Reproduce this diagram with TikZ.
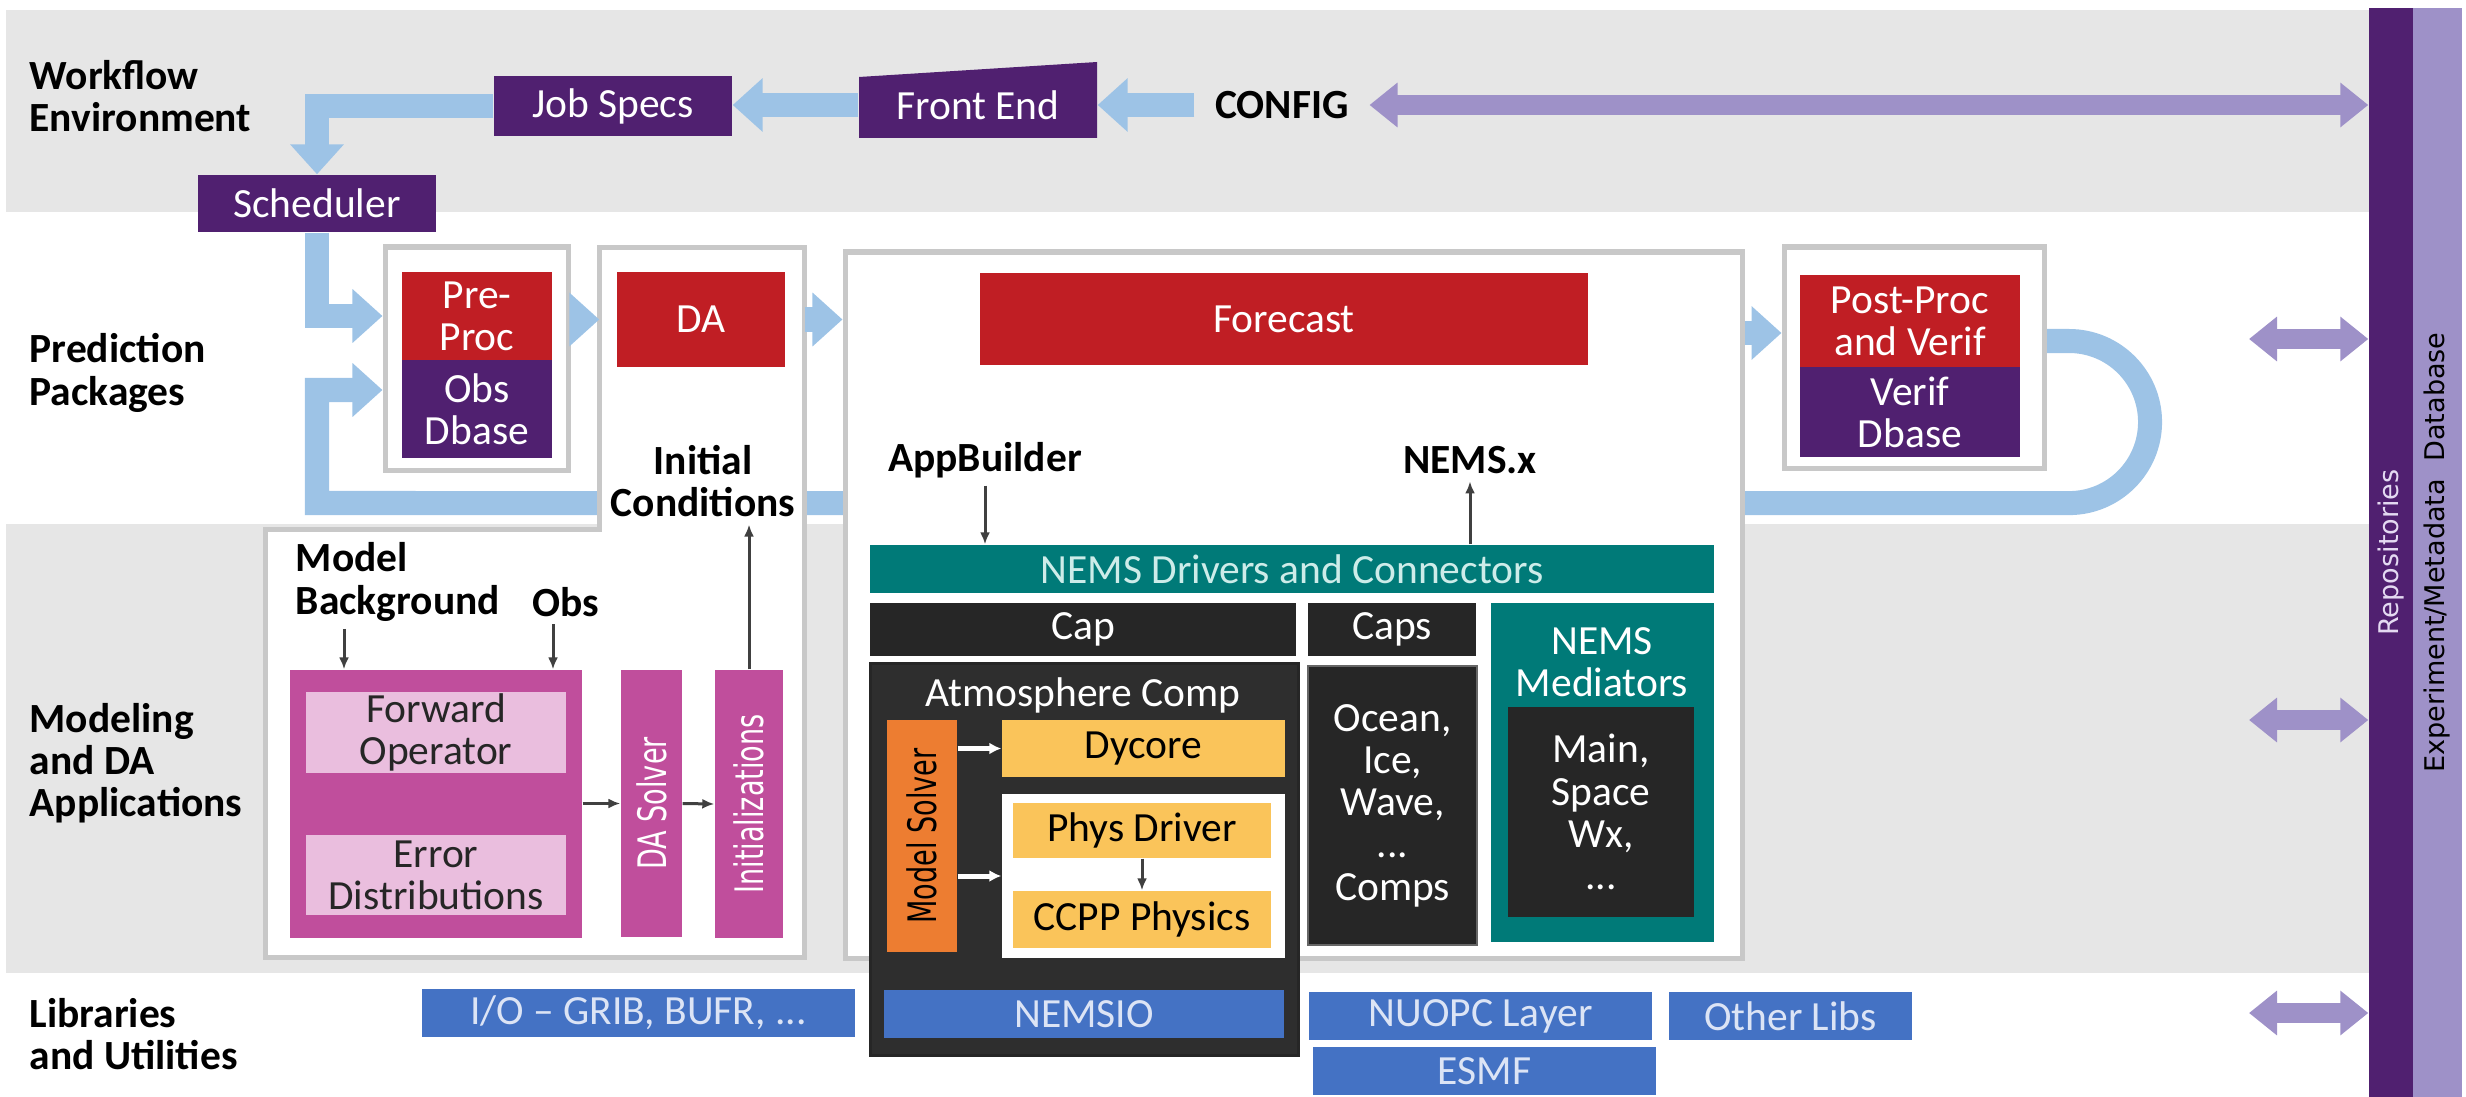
\documentclass[tikz,border=0pt]{standalone}
\usepackage{fontspec}
\setmainfont{Carlito}
\newfontfamily\rotfont{DejaVu Sans}
\usetikzlibrary{arrows.meta,backgrounds}

\definecolor{bandgray}{RGB}{230,230,230}
\definecolor{wfpurple}{RGB}{80,32,112}
\definecolor{lilac}{RGB}{158,145,200}
\definecolor{skyblue}{RGB}{157,195,230}
\definecolor{fcred}{RGB}{192,30,36}
\definecolor{nemsteal}{RGB}{0,122,120}
\definecolor{capblack}{RGB}{38,38,38}
\definecolor{atmgray}{RGB}{46,46,46}
\definecolor{solverorange}{RGB}{237,125,49}
\definecolor{coreyellow}{RGB}{250,196,90}
\definecolor{damagenta}{RGB}{192,78,156}
\definecolor{palepink}{RGB}{234,190,222}
\definecolor{libblue}{RGB}{68,114,196}
\definecolor{framegray}{RGB}{200,200,200}
\definecolor{libtext}{RGB}{220,228,245}
\definecolor{tealtext}{RGB}{205,236,233}
\definecolor{repotext}{RGB}{228,218,242}

\begin{document}
\begin{tikzpicture}[x=0.01cm, y=-0.01cm,
    every node/.style={font=\fontsize{11.8}{12}\selectfont},
    wh/.style 2 args={minimum width=#1*0.01cm, minimum height=#2*0.01cm},
    box/.style={inner sep=0pt, align=center},
    purplebox/.style={box, fill=wfpurple, text=white},
    redbox/.style={box, fill=fcred, text=white},
    tealbox/.style={box, fill=nemsteal, text=tealtext},
    blackbox/.style={box, fill=capblack, text=white},
    atmbox/.style={box, fill=atmgray, draw=black!85, line width=0.03cm},
    yellowbox/.style={box, fill=coreyellow, text=black},
    orangebox/.style={box, fill=solverorange},
    magbox/.style={box, fill=damagenta},
    pinkbox/.style={box, fill=palepink, text=black!85},
    libbox/.style={box, fill=libblue, text=libtext},
    frame/.style={draw=framegray, line width=0.05cm, fill=white, inner sep=0pt},
    lbl/.style={anchor=west, align=left, inner sep=0pt, font=\fontsize{11.8}{12}\selectfont\bfseries},
    bold/.style={align=center, inner sep=2pt, font=\fontsize{11.8}{12}\selectfont\bfseries},
    vtext/.style={rotate=90, inner sep=0pt, font=\rotfont\fontsize{7.7}{8}\selectfont},
    tallvtext/.style={vtext, yscale=1.45},
    bluearrow/.style={draw=skyblue, line width=0.24cm, -{Triangle[length=0.3cm,width=0.52cm]}},
    lilacarrows/.style={draw=lilac, line width=0.2cm, {Triangle[length=0.28cm,width=0.43cm]}-{Triangle[length=0.28cm,width=0.43cm]}},
    thinarr/.style={draw=black!75, line width=0.03cm, -{Latex[length=0.12cm,width=0.1cm]}},
    whitearr/.style={draw=white, line width=0.05cm, -{Latex[length=0.12cm,width=0.12cm]}}]

\useasboundingbox (0,0) rectangle (2466,1097);

% bands
\begin{scope}[on background layer]
\fill[bandgray] (6,10) rectangle (2369,212);
\fill[bandgray] (6,524) rectangle (2369,973);
\end{scope}

% repositories and database bars
\node[box, fill=wfpurple, wh={44}{1089}] (repos) at (2391,552.5) {};
\node[box, fill=lilac, wh={49}{1089}] (expdb) at (2437.5,552.5) {};
\node[vtext, text=repotext] (repostxt) at (repos) {Repositories};
\node[vtext, text=black] (expdbtxt) at (expdb) {Experiment/Metadata\ \ Database};

% row labels
\node[lbl] (wflbl) at (29,96) {Workflow\\Environment};
\node[lbl] (pplbl) at (29,373) {Prediction\\Packages};
\node[lbl] (mdlbl) at (29,763) {Modeling\\and DA\\Applications};
\node[lbl] (liblbl) at (29,1034) {Libraries\\and Utilities};

% workflow environment
\fill[wfpurple] (859,138) -- (1097,138) -- (1097,62) -- (859,77) -- cycle;
\node[box, text=white, wh={238}{66}] (frontend) at (978,105) {Front End};
\node[purplebox, wh={238}{60}] (jobspecs) at (613,106) {Job Specs};
\node[purplebox, wh={238}{57}] (sched) at (317,203.5) {Scheduler};
\node[bold, inner xsep=0.2cm] (config) at (1282,105) {CONFIG};

\draw[bluearrow] (config.west) -- (frontend.east);
\draw[bluearrow] (frontend.west) -- (jobspecs.east |- frontend);
\draw[bluearrow] (jobspecs.west) -| (sched.north);
\draw[lilacarrows] (config.east) -- (config.east -| repos.west);

% prediction packages
\node[frame, wh={183}{223}] (preC) at (476.5,358.5) {};
\node[box, wh={204}{709}] (dacol) at (702,602.5) {};
\node[box, wh={538}{427}] (modelC) at (535,743.5) {};
\filldraw[draw=framegray, line width=0.05cm, fill=white] (modelC.north west) -- (dacol.west |- modelC.north) -- (dacol.north west) -- (dacol.north east) -- (modelC.south east) -- (modelC.south west) -- cycle;
\node[frame, wh={897}{706}] (fcC) at (1293.5,605) {};
\node[frame, wh={260}{221}] (ppC) at (1914,357.5) {};

\begin{scope}[on background layer]
\draw[bluearrow] (ppC.east |- 0,341) -- (2069,341) arc[start angle=90, end angle=-90, radius=0.81cm] -- (sched.south |- 0,503) |- (preC.west |- 0,390);
\end{scope}

\node[redbox, wh={150}{88}] (preproc) at (477,316) {Pre-\\Proc};
\node[purplebox, wh={150}{98}] (obsdb) at (477,409) {Obs\\Dbase};
\node[redbox, wh={168}{95}] (dabox) at (701,319.5) {DA};
\node[bold] (initcond) at (703,481) {Initial\\Conditions};
\node[redbox, wh={608}{92}] (fcst) at (1284,319) {Forecast};
\node[redbox, wh={220}{92}] (postproc) at (1910,321) {Post-Proc\\and Verif};
\node[purplebox, wh={220}{90}] (verifdb) at (1910,412) {Verif\\Dbase};

\draw[bluearrow] (sched.south) |- (preC.west |- preproc);
\draw[bluearrow] (preC.east |- dabox) -- (dacol.west |- dabox);
\draw[bluearrow] (dacol.east |- dabox) -- (fcC.west |- dabox);
\draw[bluearrow] (fcC.east |- 0,333) -- (ppC.west |- 0,333);

% forecast / NEMS
\node[bold] (appb) at (985,460) {AppBuilder};
\node[bold] (nemsx) at (1470,460) {NEMS.x};
\node[tealbox, wh={844}{48}] (nemsdrv) at (1292,569) {NEMS Drivers and Connectors};
\draw[thinarr] (appb.south) -- (appb.south |- nemsdrv.north);
\draw[thinarr] (nemsdrv.north -| nemsx) -- (nemsx.south);

\node[blackbox, wh={426}{53}] (cap) at (1083,629.5) {Cap};
\node[blackbox, wh={168}{53}] (caps) at (1392,629.5) {Caps};
\node[tealbox, wh={223}{339}] (medi) at (1602.5,772.5) {};
\node[box, text=white] (meditxt) at (1602,662) {NEMS\\Mediators};
\node[blackbox, wh={186}{210}] (medmain) at (1601,812) {Main,\\Space\\Wx,\\...};
\node[blackbox, draw=black!60, line width=0.02cm, wh={169}{279}] (capscol) at (1392.5,805.5) {Ocean,\\Ice,\\Wave,\\...\\Comps};

\node[atmbox, wh={428}{392}] (atm) at (1084,859) {};
\node[box, text=white] (atmtxt) at (1083,695) {Atmosphere Comp};
\node[orangebox, wh={70}{232}] (msolver) at (922,836) {};
\node[tallvtext, text=black] (msolvertxt) at (msolver) {Model Solver};
\node[yellowbox, wh={283}{57}] (dycore) at (1143.5,748.5) {Dycore};
\node[box, fill=white, wh={283}{164}] (physbox) at (1143.5,876) {};
\node[yellowbox, wh={258}{55}] (physdrv) at (1142,830.5) {Phys Driver};
\node[yellowbox, wh={258}{57}] (ccpp) at (1142,919.5) {CCPP Physics};
\draw[thinarr] (physdrv) -- (ccpp);
\draw[whitearr] (msolver.east |- dycore) -- (dycore.west);
\draw[whitearr] (msolver.east |- physbox) -- (physbox.west);
\node[libbox, wh={400}{48}] (nemsio) at (1084,1014) {NEMSIO};

% modeling and DA
\node[bold, anchor=west, align=left] (modelbg) at (288,582) {Model\\Background};
\node[bold] (obs) at (566,602) {Obs};
\node[magbox, wh={292}{268}] (damag) at (436,804) {};
\node[pinkbox, wh={260}{81}] (fwdop) at (436,732.5) {Forward\\Operator};
\node[pinkbox, wh={260}{80}] (errdist) at (436,875) {Error\\Distributions};
\node[magbox, wh={61}{267}] (dasolver) at (651.5,803.5) {};
\node[tallvtext, text=white] (dasolvertxt) at (dasolver) {DA Solver};
\node[magbox, wh={68}{268}] (initz) at (749,804) {};
\node[tallvtext, text=white] (initztxt) at (initz) {Initializations};

\draw[thinarr] (344,0 |- modelbg.south) -- (344,0 |- damag.north);
\draw[thinarr] (553,0 |- obs.south) -- (553,0 |- damag.north);
\draw[thinarr] (damag.east |- dasolver) -- (dasolver.west);
\draw[thinarr] (dasolver.east) -- (initz.west);
\draw[thinarr] (initz.north) -- (initz.north |- initcond.south);

% libraries
\node[libbox, wh={433}{48}] (iolib) at (638.5,1013) {I/O – GRIB, BUFR, ...};
\node[libbox, wh={343}{48}] (nuopc) at (1480.5,1016) {NUOPC Layer};
\node[libbox, wh={243}{48}] (otherlib) at (1790.5,1016) {Other Libs};
\node[libbox, wh={343}{48}] (esmf) at (1484.5,1071) {ESMF};

% links to repositories
\coordinate (pplink) at (2249,339);
\coordinate (mdlink) at (2249,720);
\coordinate (liblink) at (2249,1013);
\draw[lilacarrows] (pplink) -- (pplink -| repos.west);
\draw[lilacarrows] (mdlink) -- (mdlink -| repos.west);
\draw[lilacarrows] (liblink) -- (liblink -| repos.west);
\end{tikzpicture}
\end{document}
